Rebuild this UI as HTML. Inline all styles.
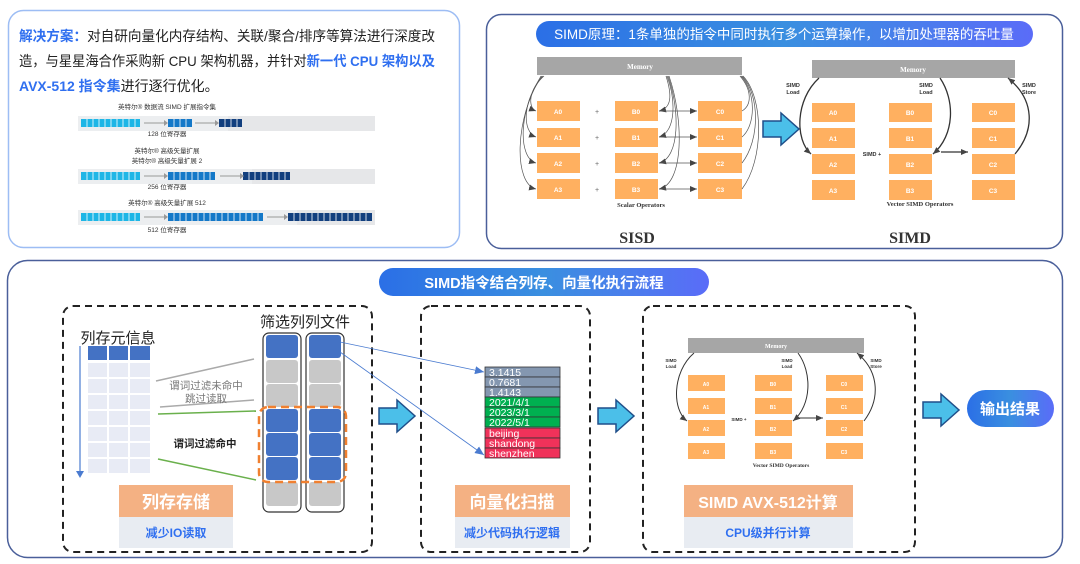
<!DOCTYPE html>
<html><head><meta charset="utf-8"><style>
html,body{margin:0;padding:0;background:#fff;}
svg{display:block;}
text{font-family:"Liberation Sans","Noto Sans CJK SC",sans-serif;}
.sf{font-family:"Liberation Serif","Noto Serif CJK SC",serif;font-weight:bold;}
</style></head><body>
<svg width="1080" height="564" viewBox="0 0 1080 564" xmlns="http://www.w3.org/2000/svg">
<defs>
<linearGradient id="pg" x1="0" x2="1" y1="0" y2="0"><stop offset="0" stop-color="#2b6fe6"/><stop offset="0.5" stop-color="#3a8fe0"/><stop offset="1" stop-color="#5a6cf8"/></linearGradient>
<marker id="ah" markerWidth="8" markerHeight="8" refX="7" refY="4" orient="auto" markerUnits="userSpaceOnUse"><path d="M0,1 L7,4 L0,7 z" fill="#444"/></marker>
<marker id="ahb" markerWidth="10" markerHeight="10" refX="9" refY="5" orient="auto" markerUnits="userSpaceOnUse"><path d="M0,1 L9,5 L0,9 z" fill="#4a7bd0"/></marker>
<g id="bigarrow"><path d="M0,8 L18,8 L18,0 L36,16 L18,32 L18,24 L0,24 z" fill="#4bbfe9" stroke="#1f4f8a" stroke-width="1.5"/></g>
</defs>

<!-- Top-left box -->
<rect x="8.5" y="10.5" width="451" height="237" rx="15" fill="#fff" stroke="#9dbdf4" stroke-width="1.5"/>
<text x="19" y="41" font-size="14" fill="#222" textLength="416" lengthAdjust="spacingAndGlyphs"><tspan fill="#2f6ff0" font-weight="bold">解决方案：</tspan>对自研向量化内存结构、关联/聚合/排序等算法进行深度改</text>
<text x="19" y="66" font-size="14" fill="#222" textLength="416" lengthAdjust="spacingAndGlyphs">造，与星星海合作采购新 CPU 架构机器，并针对<tspan fill="#2f6ff0" font-weight="bold">新一代 CPU 架构以及</tspan></text>
<text x="19" y="91" font-size="14" fill="#222"><tspan fill="#2f6ff0" font-weight="bold">AVX-512 指令集</tspan>进行逐行优化。</text>
<g font-size="6.5" fill="#333" text-anchor="middle">
<text x="167" y="109">英特尔® 数据流 SIMD 扩展指令集</text>
<text x="167" y="136">128 位寄存器</text>
<text x="167" y="153">英特尔® 高级矢量扩展</text>
<text x="167" y="163">英特尔® 高级矢量扩展 2</text>
<text x="167" y="189">256 位寄存器</text>
<text x="167" y="205">英特尔® 高级矢量扩展 512</text>
<text x="167" y="232">512 位寄存器</text>
</g>
<rect x="78" y="116" width="150" height="15" fill="#eceef0"/><rect x="228" y="116" width="147" height="15" fill="#e6e7e9"/>
<rect x="78" y="169" width="174" height="15" fill="#eceef0"/><rect x="252" y="169" width="123" height="15" fill="#e6e7e9"/>
<rect x="78" y="210" width="219" height="15" fill="#eceef0"/><rect x="297" y="210" width="78" height="15" fill="#e6e7e9"/>
<g>
<rect x="81" y="119" width="59" height="8" fill="#1eb6e6"/>
<rect x="168" y="119" width="24" height="8" fill="#1478c8"/>
<rect x="219" y="119" width="23" height="8" fill="#123f7e"/>
<rect x="81" y="172" width="59" height="8" fill="#1eb6e6"/>
<rect x="168" y="172" width="47" height="8" fill="#1478c8"/>
<rect x="243" y="172" width="47" height="8" fill="#123f7e"/>
<rect x="81" y="213" width="59" height="8" fill="#1eb6e6"/>
<rect x="168" y="213" width="95" height="8" fill="#1478c8"/>
<rect x="288" y="213" width="84" height="8" fill="#123f7e"/>
<g stroke="#fff" stroke-width="0.8">
<path d="M87,119v8M93,119v8M99,119v8M105,119v8M111,119v8M117,119v8M123,119v8M129,119v8M135,119v8 M174,119v8M180,119v8M186,119v8M225,119v8M231,119v8M237,119v8"/>
<path d="M87,172v8M93,172v8M99,172v8M105,172v8M111,172v8M117,172v8M123,172v8M129,172v8M135,172v8 M174,172v8M180,172v8M186,172v8M192,172v8M198,172v8M204,172v8M210,172v8 M249,172v8M255,172v8M261,172v8M267,172v8M273,172v8M279,172v8M285,172v8"/>
<path d="M87,213v8M93,213v8M99,213v8M105,213v8M111,213v8M117,213v8M123,213v8M129,213v8M135,213v8 M174,213v8M180,213v8M186,213v8M192,213v8M198,213v8M204,213v8M210,213v8M216,213v8M222,213v8M228,213v8M234,213v8M240,213v8M246,213v8M252,213v8M258,213v8 M294,213v8M300,213v8M306,213v8M312,213v8M318,213v8M324,213v8M330,213v8M336,213v8M342,213v8M348,213v8M354,213v8M360,213v8M366,213v8"/>
</g>
<g stroke="#999" stroke-width="1" fill="none">
<path d="M144,123 H164 M195,123 H215 M144,176 H164 M220,176 H240 M144,217 H164 M267,217 H284"/></g>
<g fill="#999"><path d="M164,120 L168,123 L164,126z M215,120 L219,123 L215,126z M164,173 L168,176 L164,179z M240,173 L244,176 L240,179z M164,214 L168,217 L164,220z M284,214 L288,217 L284,220z"/></g>
</g>

<!-- Top-right box -->
<rect x="486.5" y="14.5" width="576" height="234" rx="15" fill="#fff" stroke="#4a5f9a" stroke-width="1.5"/>
<rect x="536" y="21" width="497" height="26" rx="13" fill="url(#pg)"/>
<text x="784" y="39" font-size="13.5" fill="#fff" text-anchor="middle">SIMD原理：1条单独的指令中同时执行多个运算操作，以增加处理器的吞吐量</text>

<!-- SISD -->
<rect x="537" y="57" width="205" height="18" fill="#a6a6a6"/>
<text x="640" y="69" font-size="7" fill="#fff" text-anchor="middle" class="sf">Memory</text>
<g fill="#ffb060">
<rect x="537" y="101" width="43" height="20"/><rect x="537" y="128" width="43" height="19"/><rect x="537" y="153" width="43" height="20"/><rect x="537" y="179" width="43" height="20"/>
<rect x="615" y="101" width="43" height="20"/><rect x="615" y="128" width="43" height="19"/><rect x="615" y="153" width="43" height="20"/><rect x="615" y="179" width="43" height="20"/>
<rect x="698" y="101" width="44" height="20"/><rect x="698" y="128" width="44" height="19"/><rect x="698" y="153" width="44" height="20"/><rect x="698" y="179" width="44" height="20"/>
</g>
<g font-size="6.5" fill="#fff" text-anchor="middle" class="sf">
<text x="558" y="114">A0</text><text x="558" y="140">A1</text><text x="558" y="166">A2</text><text x="558" y="192">A3</text>
<text x="636" y="114">B0</text><text x="636" y="140">B1</text><text x="636" y="166">B2</text><text x="636" y="192">B3</text>
<text x="720" y="114">C0</text><text x="720" y="140">C1</text><text x="720" y="166">C2</text><text x="720" y="192">C3</text>
</g>
<g font-size="7" fill="#666" text-anchor="middle"><text x="597" y="114">+</text><text x="597" y="140">+</text><text x="597" y="166">+</text><text x="597" y="192">+</text></g>
<g stroke="#555" stroke-width="0.7" fill="none" marker-end="url(#ah)">
<path d="M544,76 C528,90 528,108 536,111"/>
<path d="M543,76 C522,100 522,132 536,137"/>
<path d="M542,76 C518,110 518,158 536,163"/>
<path d="M541,76 C514,120 514,184 536,189"/>
<path d="M666,76 C672,95 672,108 659,111"/>
<path d="M667,76 C676,100 676,132 659,137"/>
<path d="M668,76 C680,110 680,158 659,163"/>
<path d="M669,76 C684,120 684,184 659,189"/>
<path d="M659,111 H697"/><path d="M659,137 H697"/><path d="M659,163 H697"/><path d="M659,189 H697"/>
</g>
<g stroke="#555" stroke-width="0.7" fill="none">
<path d="M742,111 C752,105 752,90 740,76"/><path d="M742,137 C756,125 756,92 741,76"/><path d="M742,163 C760,140 760,95 742,76"/><path d="M742,189 C764,160 764,98 743,76"/>
</g>
<text x="641" y="207" font-size="6.5" fill="#333" text-anchor="middle" class="sf">Scalar Operators</text>
<text x="637" y="243" font-size="16" fill="#333" text-anchor="middle" class="sf">SISD</text>

<use href="#bigarrow" x="763" y="113"/>

<!-- SIMD -->
<rect x="812" y="60" width="203" height="18" fill="#a6a6a6"/>
<text x="913" y="72" font-size="7" fill="#fff" text-anchor="middle" class="sf">Memory</text>
<g fill="#ffb060">
<rect x="812" y="103" width="43" height="19"/><rect x="812" y="128" width="43" height="20"/><rect x="812" y="154" width="43" height="20"/><rect x="812" y="180" width="43" height="20"/>
<rect x="889" y="103" width="43" height="19"/><rect x="889" y="128" width="43" height="20"/><rect x="889" y="154" width="43" height="20"/><rect x="889" y="180" width="43" height="20"/>
<rect x="972" y="103" width="43" height="19"/><rect x="972" y="128" width="43" height="20"/><rect x="972" y="154" width="43" height="20"/><rect x="972" y="180" width="43" height="20"/>
</g>
<g font-size="6.5" fill="#fff" text-anchor="middle" class="sf">
<text x="833" y="115">A0</text><text x="833" y="141">A1</text><text x="833" y="167">A2</text><text x="833" y="193">A3</text>
<text x="910" y="115">B0</text><text x="910" y="141">B1</text><text x="910" y="167">B2</text><text x="910" y="193">B3</text>
<text x="993" y="115">C0</text><text x="993" y="141">C1</text><text x="993" y="167">C2</text><text x="993" y="193">C3</text>
</g>
<g font-size="5.5" fill="#333" text-anchor="middle" class="sf">
<text x="793" y="87">SIMD</text><text x="793" y="94">Load</text>
<text x="926" y="87">SIMD</text><text x="926" y="94">Load</text>
<text x="1029" y="87">SIMD</text><text x="1029" y="94">Store</text>
<text x="872" y="156">SIMD +</text>
</g>
<g stroke="#333" stroke-width="1.3" fill="none" marker-end="url(#ah)">
<path d="M819,78 C795,100 795,140 811,154"/>
<path d="M940,78 C955,100 955,135 933,154"/>
<path d="M1015,154 C1035,130 1035,100 1008,78"/>
<path d="M941,152 H968"/>
</g>
<text x="920" y="206" font-size="6.5" fill="#333" text-anchor="middle" class="sf">Vector SIMD Operators</text>
<text x="910" y="243" font-size="16" fill="#333" text-anchor="middle" class="sf">SIMD</text>

<!-- Bottom box -->
<rect x="7.5" y="260.5" width="1055" height="297" rx="20" fill="#fff" stroke="#4a5f9a" stroke-width="1.5"/>
<rect x="379" y="268" width="330" height="28" rx="14" fill="url(#pg)"/>
<text x="544" y="288" font-size="14.5" font-weight="bold" fill="#fff" text-anchor="middle">SIMD指令结合列存、向量化执行流程</text>

<g stroke="#222" stroke-width="2" stroke-dasharray="7,5" fill="none">
<rect x="63" y="306" width="309" height="246" rx="10"/>
<rect x="421" y="306" width="169" height="246" rx="10"/>
<rect x="643" y="306" width="272" height="246" rx="10"/>
</g>

<!-- Box1 -->
<text x="118" y="343" font-size="15" fill="#222" text-anchor="middle">列存元信息</text>
<g fill="#4472c4"><rect x="88" y="346" width="19" height="14"/><rect x="109" y="346" width="19" height="14"/><rect x="130" y="346" width="20" height="14"/></g>
<g fill="#e8ebf5">
<rect x="88" y="363" width="19" height="14"/><rect x="109" y="363" width="19" height="14"/><rect x="130" y="363" width="20" height="14"/>
<rect x="88" y="379" width="19" height="14"/><rect x="109" y="379" width="19" height="14"/><rect x="130" y="379" width="20" height="14"/>
<rect x="88" y="395" width="19" height="14"/><rect x="109" y="395" width="19" height="14"/><rect x="130" y="395" width="20" height="14"/>
<rect x="88" y="411" width="19" height="14"/><rect x="109" y="411" width="19" height="14"/><rect x="130" y="411" width="20" height="14"/>
<rect x="88" y="427" width="19" height="14"/><rect x="109" y="427" width="19" height="14"/><rect x="130" y="427" width="20" height="14"/>
<rect x="88" y="443" width="19" height="14"/><rect x="109" y="443" width="19" height="14"/><rect x="130" y="443" width="20" height="14"/>
<rect x="88" y="459" width="19" height="14"/><rect x="109" y="459" width="19" height="14"/><rect x="130" y="459" width="20" height="14"/>
</g>
<path d="M80,346 V472" stroke="#4a7bd0" stroke-width="1.2"/><path d="M76,471 L80,478 L84,471z" fill="#4a7bd0"/>
<text x="305" y="327" font-size="15" fill="#222" text-anchor="middle">筛选列列文件</text>
<rect x="263" y="333" width="38" height="179" rx="6" fill="#fff" stroke="#333" stroke-width="1.2"/>
<rect x="306" y="333" width="38" height="179" rx="6" fill="#fff" stroke="#333" stroke-width="1.2"/>
<g>
<rect x="266" y="335" width="32" height="23" rx="3" fill="#4472c4"/><rect x="309" y="335" width="32" height="23" rx="3" fill="#4472c4"/>
<rect x="266" y="360" width="32" height="23" rx="3" fill="#c8c8c8"/><rect x="309" y="360" width="32" height="23" rx="3" fill="#c8c8c8"/>
<rect x="266" y="384" width="32" height="23" rx="3" fill="#c8c8c8"/><rect x="309" y="384" width="32" height="23" rx="3" fill="#c8c8c8"/>
<rect x="266" y="409" width="32" height="23" rx="3" fill="#4472c4"/><rect x="309" y="409" width="32" height="23" rx="3" fill="#4472c4"/>
<rect x="266" y="433" width="32" height="23" rx="3" fill="#4472c4"/><rect x="309" y="433" width="32" height="23" rx="3" fill="#4472c4"/>
<rect x="266" y="457" width="32" height="23" rx="3" fill="#4472c4"/><rect x="309" y="457" width="32" height="23" rx="3" fill="#4472c4"/>
<rect x="266" y="482" width="32" height="24" rx="3" fill="#c8c8c8"/><rect x="309" y="482" width="32" height="24" rx="3" fill="#c8c8c8"/>
</g>
<rect x="259" y="407" width="87" height="75" rx="9" fill="none" stroke="#f08030" stroke-width="2.5" stroke-dasharray="8,5"/>
<g stroke-width="1.5">
<path d="M156,381 L254,359" stroke="#aaa"/><path d="M160,407 L254,400" stroke="#aaa"/>
<path d="M158,414 L256,411" stroke="#6ab04c"/><path d="M158,459 L256,480" stroke="#6ab04c"/>
</g>
<text x="206" y="389" font-size="10.5" fill="#777" text-anchor="middle">谓词过滤未命中</text>
<text x="206" y="402" font-size="10.5" fill="#777" text-anchor="middle">跳过读取</text>
<text x="205" y="447" font-size="10.5" font-weight="bold" fill="#222" text-anchor="middle">谓词过滤命中</text>
<rect x="119" y="485" width="114" height="32" fill="#f4b183"/>
<rect x="119" y="517" width="114" height="31" fill="#e8ecf2"/>
<text x="176" y="508" font-size="17" font-weight="bold" fill="#fff" text-anchor="middle">列存存储</text>
<text x="176" y="537" font-size="12" font-weight="bold" fill="#2f6ff0" text-anchor="middle">减少IO读取</text>

<g stroke="#4a7bd0" stroke-width="0.8" fill="none" marker-end="url(#ahb)">
<path d="M340,342 L484,372"/><path d="M340,352 L484,455"/>
</g>

<use href="#bigarrow" x="379" y="400"/>

<!-- Box2 -->
<g stroke="#333" stroke-width="0.8">
<rect x="485" y="367" width="75" height="10" fill="#8497b0"/>
<rect x="485" y="377" width="75" height="10" fill="#8497b0"/>
<rect x="485" y="387" width="75" height="10" fill="#8497b0"/>
<rect x="485" y="397" width="75" height="10" fill="#00b050"/>
<rect x="485" y="407" width="75" height="10" fill="#00b050"/>
<rect x="485" y="417" width="75" height="10" fill="#00b050"/>
<rect x="485" y="428" width="75" height="10" fill="#f0325a"/>
<rect x="485" y="438" width="75" height="10" fill="#f0325a"/>
<rect x="485" y="448" width="75" height="10" fill="#f0325a"/>
</g>
<g font-size="10.5" fill="#fff">
<text x="489" y="376">3.1415</text><text x="489" y="386">0.7681</text><text x="489" y="396">1.4143</text>
<text x="489" y="406">2021/4/1</text><text x="489" y="416">2023/3/1</text><text x="489" y="426">2022/5/1</text>
<text x="489" y="437">beijing</text><text x="489" y="447">shandong</text><text x="489" y="457">shenzhen</text>
</g>
<rect x="455" y="485" width="115" height="32" fill="#f4b183"/>
<rect x="455" y="517" width="115" height="31" fill="#e8ecf2"/>
<text x="512" y="508" font-size="17" font-weight="bold" fill="#fff" text-anchor="middle">向量化扫描</text>
<text x="512" y="537" font-size="12" font-weight="bold" fill="#2f6ff0" text-anchor="middle">减少代码执行逻辑</text>

<use href="#bigarrow" x="598" y="400"/>

<!-- Box3 -->
<rect x="688" y="338" width="176" height="15" fill="#a6a6a6"/>
<text x="776" y="348" font-size="6" fill="#fff" text-anchor="middle" class="sf">Memory</text>
<g fill="#ffb060">
<rect x="688" y="375" width="37" height="16"/><rect x="688" y="398" width="37" height="16"/><rect x="688" y="420" width="37" height="16"/><rect x="688" y="443" width="37" height="16"/>
<rect x="755" y="375" width="37" height="16"/><rect x="755" y="398" width="37" height="16"/><rect x="755" y="420" width="37" height="16"/><rect x="755" y="443" width="37" height="16"/>
<rect x="826" y="375" width="37" height="16"/><rect x="826" y="398" width="37" height="16"/><rect x="826" y="420" width="37" height="16"/><rect x="826" y="443" width="37" height="16"/>
</g>
<g font-size="5" fill="#fff" text-anchor="middle" class="sf">
<text x="706" y="386">A0</text><text x="706" y="409">A1</text><text x="706" y="431">A2</text><text x="706" y="454">A3</text>
<text x="773" y="386">B0</text><text x="773" y="409">B1</text><text x="773" y="431">B2</text><text x="773" y="454">B3</text>
<text x="844" y="386">C0</text><text x="844" y="409">C1</text><text x="844" y="431">C2</text><text x="844" y="454">C3</text>
</g>
<g font-size="4.5" fill="#333" text-anchor="middle" class="sf">
<text x="671" y="362">SIMD</text><text x="671" y="368">Load</text>
<text x="787" y="362">SIMD</text><text x="787" y="368">Load</text>
<text x="876" y="362">SIMD</text><text x="876" y="368">Store</text>
<text x="739" y="421">SIMD +</text>
</g>
<g stroke="#333" stroke-width="1" fill="none" marker-end="url(#ah)">
<path d="M694,353 C672,372 672,410 687,421"/>
<path d="M798,353 C812,372 812,405 793,421"/>
<path d="M864,421 C880,400 880,372 857,353"/>
<path d="M799,418 H823"/>
</g>
<text x="781" y="467" font-size="5.5" fill="#333" text-anchor="middle" class="sf">Vector SIMD Operators</text>
<rect x="684" y="485" width="169" height="32" fill="#f4b183"/>
<rect x="684" y="517" width="169" height="31" fill="#e8ecf2"/>
<text x="768" y="508" font-size="16" font-weight="bold" fill="#fff" text-anchor="middle">SIMD AVX-512计算</text>
<text x="768" y="537" font-size="12" font-weight="bold" fill="#2f6ff0" text-anchor="middle">CPU级并行计算</text>

<use href="#bigarrow" x="923" y="394"/>
<rect x="967" y="390" width="87" height="37" rx="18.5" fill="url(#pg)"/>
<text x="1010" y="414" font-size="15" font-weight="bold" fill="#fff" text-anchor="middle">输出结果</text>
</svg>
</body></html>
